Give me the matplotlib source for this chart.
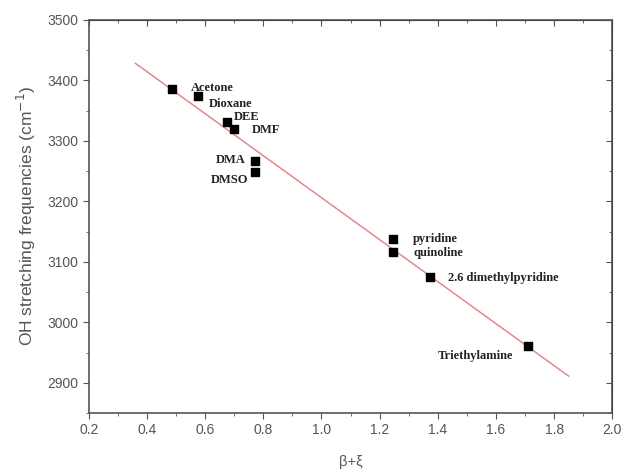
import numpy as np
import matplotlib
matplotlib.use("Agg")
import matplotlib.pyplot as plt

# solvent data
solvents = ["Acetone", "Dioxane", "DEE", "DMF", "DMA", "DMSO",
            "pyridine", "quinoline", "2.6 dimethylpyridine", "Triethylamine"]
beta_xi = [0.486, 0.575, 0.675, 0.699, 0.771, 0.771, 1.245, 1.245, 1.373, 1.712]
oh_freq = [3386, 3374, 3331, 3320, 3267, 3248, 3137, 3116, 3075, 2961]

# label anchor points (data coords) and alignment
label_x = [0.551, 0.613, 0.699, 0.761, 0.740, 0.747, 1.315, 1.315, 1.435, 1.40]
label_y = [3387, 3361, 3339, 3318, 3269, 3236, 3137, 3115, 3073, 2945]
label_ha = ["left", "left", "left", "left", "right", "right", "left", "left", "left", "left"]

fit_range = [0.36, 1.85]

fig = plt.figure(figsize=(6.26, 4.72), dpi=100)
ax = fig.add_axes([0.142, 0.125, 0.836, 0.833])

# linear regression line
coef = np.polyfit(beta_xi, oh_freq, 1)
lx = np.array(fit_range)
ax.plot(lx, np.polyval(coef, lx), color="#e8868a", lw=1.1, zorder=1)

ax.scatter(beta_xi, oh_freq, marker="s", s=28, color="black", zorder=3)

for name, tx, ty, ha in zip(solvents, label_x, label_y, label_ha):
    ax.text(tx, ty, name, ha=ha, va="center", fontsize=9, fontweight="bold",
            family="Liberation Serif", color="#222222")

ax.set_xlim(0.2, 2.0)
ax.set_ylim(2850, 3500)
ax.set_xticks(np.arange(0.2, 2.01, 0.2))
ax.set_xticks(np.arange(0.3, 2.0, 0.2), minor=True)
ax.set_yticks(np.arange(2900, 3501, 100))
ax.set_yticks(np.arange(2850, 3500, 100), minor=True)

gray = "#555555"
for s in ax.spines.values():
    s.set_color(gray)
    s.set_linewidth(1.2)
ax.tick_params(which="both", direction="out", colors=gray, labelcolor=gray,
               labelsize=10)
ax.tick_params(which="major", length=4)
ax.tick_params(which="minor", length=2.5)
ax.xaxis.set_major_formatter(matplotlib.ticker.FormatStrFormatter("%.1f"))
for lab in ax.get_xticklabels() + ax.get_yticklabels():
    lab.set_family("Liberation Sans")

# inward ticks on top and right
top = ax.secondary_xaxis("top")
top.set_xticks(np.arange(0.2, 2.01, 0.2))
top.set_xticks(np.arange(0.3, 2.0, 0.2), minor=True)
top.tick_params(which="both", direction="in", colors=gray, labeltop=False)
top.tick_params(which="major", length=4)
top.tick_params(which="minor", length=2.5)
right = ax.secondary_yaxis("right")
right.set_yticks(np.arange(2900, 3501, 100))
right.set_yticks(np.arange(2850, 3500, 100), minor=True)
right.tick_params(which="both", direction="in", colors=gray, labelright=False)
right.tick_params(which="major", length=4)
right.tick_params(which="minor", length=2.5)

ax.set_xlabel("β+ξ", fontsize=10.5, color=gray, family="Liberation Sans", labelpad=13)
ax.set_ylabel("OH stretching frequencies (cm$^{-1}$)", fontsize=12.5, color=gray,
              family="Liberation Sans", labelpad=7)

fig.savefig("out.png", dpi=100)
